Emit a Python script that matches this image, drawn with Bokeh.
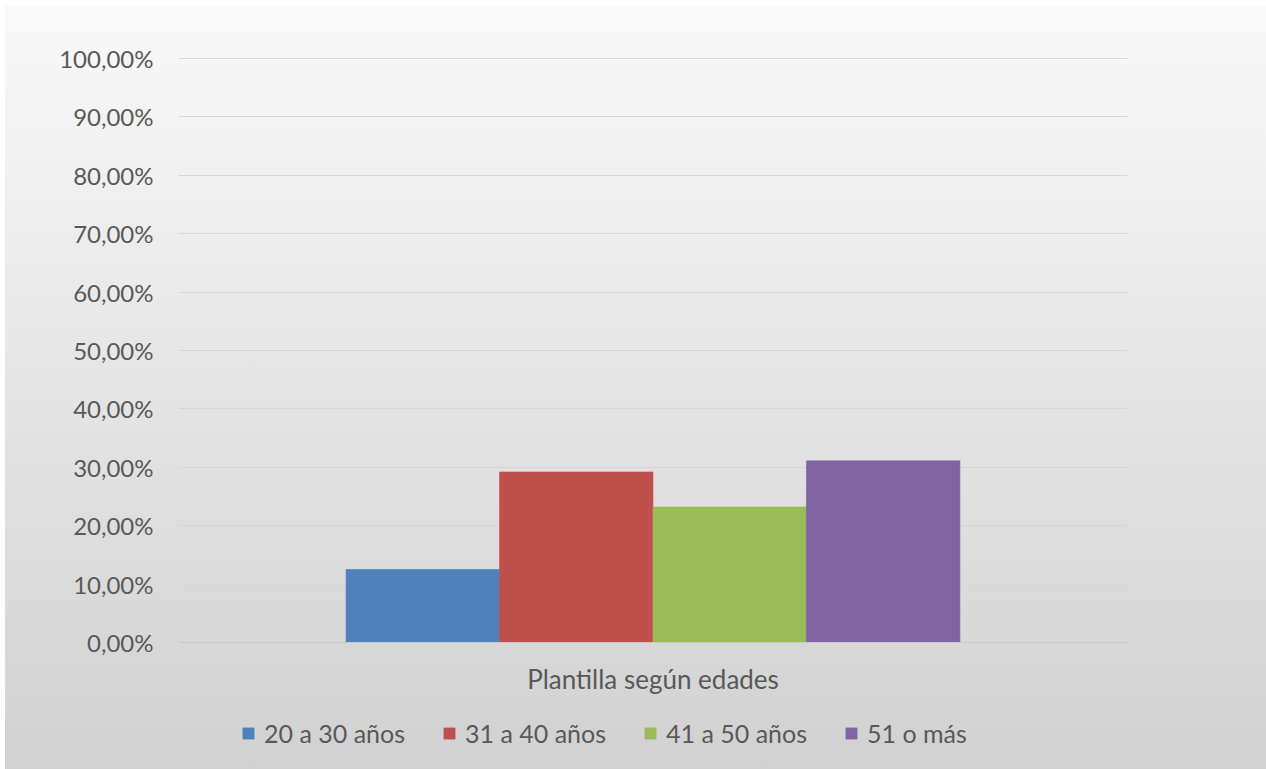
from bokeh.plotting import figure
from bokeh.models import FactorRange, Range1d, FixedTicker, Legend, LegendItem, ColumnDataSource
from bokeh.layouts import column
from bokeh.transform import dodge
from bokeh.embed import file_html
from bokeh.resources import INLINE

category = "Plantilla según edades"
series = ["20 a 30 años", "31 a 40 años", "41 a 50 años", "51 o más"]
values = [12.5, 29.2, 23.2, 31.1]
colors = ["#4f81bd", "#c0504d", "#9bbb59", "#8064a2"]
y_ticks = [0, 10, 20, 30, 40, 50, 60, 70, 80, 90, 100]
y_tick_labels = ["0,00%", "10,00%", "20,00%", "30,00%", "40,00%", "50,00%",
                 "60,00%", "70,00%", "80,00%", "90,00%", "100,00%"]

FONT = "Lato"
TXT = "#595959"

p = figure(x_range=FactorRange(category, range_padding=0), y_range=Range1d(0, 100.17),
           frame_width=949, frame_height=585,
           min_border_left=178, min_border_right=139, min_border_top=57, min_border_bottom=70,
           output_backend="svg", toolbar_location=None)

bw = 0.1617
offsets = [-1.5 * bw, -0.5 * bw, 0.5 * bw, 1.5 * bw]
for name, val, col, off in zip(series, values, colors, offsets):
    src = ColumnDataSource(dict(x=[category], top=[val]))
    p.vbar(x=dodge("x", off, range=p.x_range), top="top", bottom=0, width=bw,
           source=src, fill_color=col, line_color=col, line_alpha=0.6)

p.background_fill_alpha = 0
p.border_fill_alpha = 0
p.outline_line_color = None

p.xgrid.grid_line_color = None
p.ygrid.grid_line_color = "#d6d6d6"
p.ygrid.grid_line_width = 1

p.yaxis.ticker = FixedTicker(ticks=y_ticks)
p.yaxis.major_label_overrides = {t: l for t, l in zip(y_ticks, y_tick_labels)}
p.yaxis.axis_line_color = None
p.yaxis.major_tick_line_color = None
p.yaxis.minor_tick_line_color = None
p.yaxis.major_tick_out = 0
p.yaxis.major_label_standoff = 25
p.yaxis.major_label_text_font = FONT
p.yaxis.major_label_text_font_size = "24px"
p.yaxis.major_label_text_color = TXT

p.xaxis.axis_line_color = "#c8c8c8"
p.xaxis.major_tick_line_color = None
p.xaxis.minor_tick_line_color = None
p.xaxis.major_tick_out = 0
p.xaxis.major_label_standoff = 20
p.xaxis.major_label_text_font = FONT
p.xaxis.major_label_text_font_size = "26px"
p.xaxis.major_label_text_color = TXT

# legend strip below the chart (its bars lie outside its visible y range)
lf = figure(width=1266, height=57, x_range=FactorRange(category), y_range=Range1d(1000, 1001),
            min_border=0, output_backend="svg", toolbar_location=None)
lf.axis.visible = False
lf.grid.visible = False
lf.background_fill_alpha = 0
lf.border_fill_alpha = 0
lf.outline_line_color = None
leg_renderers = []
for name, val, col in zip(series, values, colors):
    src = ColumnDataSource(dict(x=[category], top=[val]))
    leg_renderers.append(lf.vbar(x="x", top="top", bottom=0, width=bw, source=src,
                                 fill_color=col, line_color=col, line_alpha=0.6))

legend = Legend(items=[LegendItem(label=s, renderers=[r]) for s, r in zip(series, leg_renderers)],
                orientation="horizontal", location=(63, 21),
                glyph_width=14, glyph_height=14, label_standoff=9, spacing=37,
                padding=0, margin=0, background_fill_alpha=0, border_line_color=None,
                label_text_font=FONT, label_text_font_size="25px", label_text_color=TXT)
lf.add_layout(legend, "center")

layout = column(p, lf, spacing=0)
layout.styles = {
    "background-image": "linear-gradient(to bottom, #f9f9f9, #d1d1d1)",
    "background-repeat": "no-repeat",
    "background-position": "5px 6px",
    "background-size": "1261px 763px",
}

open("out.html", "w").write(file_html(layout, INLINE))
